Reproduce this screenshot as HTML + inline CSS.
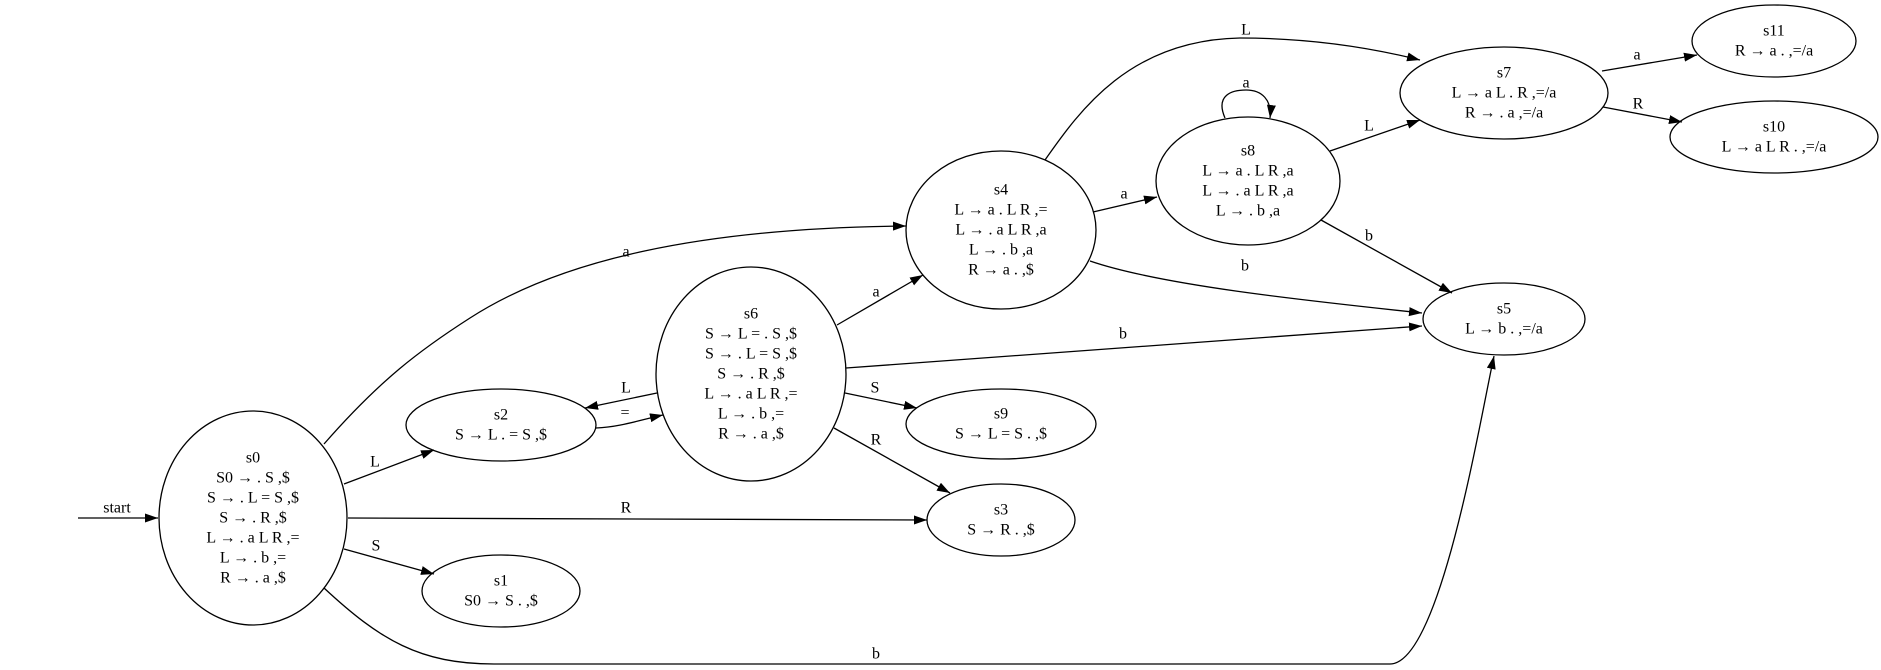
<!DOCTYPE html>
<html><head><meta charset="utf-8"><style>
html,body{margin:0;padding:0;background:#fff;}
svg{display:block;}
text{font-family:"Liberation Serif",serif;font-size:16px;fill:#000;}
</style></head><body>
<svg width="1881" height="670" viewBox="0 0 1881 670" xmlns="http://www.w3.org/2000/svg">
<defs><marker id="ar" markerUnits="userSpaceOnUse" markerWidth="14" markerHeight="10" refX="13" refY="4.5" orient="auto"><path d="M0,0 L13,4.5 L0,9 z" fill="#000"/></marker></defs>
<g fill="none" stroke="#000" stroke-width="1.3">
<ellipse cx="253" cy="518" rx="94" ry="107"/>
<ellipse cx="501" cy="425" rx="95" ry="36"/>
<ellipse cx="501" cy="591" rx="79" ry="36"/>
<ellipse cx="751" cy="374" rx="95" ry="107"/>
<ellipse cx="1001" cy="230" rx="95" ry="79"/>
<ellipse cx="1001" cy="424" rx="95" ry="35"/>
<ellipse cx="1001" cy="520" rx="74" ry="36"/>
<ellipse cx="1504" cy="93" rx="104" ry="46"/>
<ellipse cx="1774" cy="41" rx="82" ry="36"/>
<ellipse cx="1774" cy="137" rx="104" ry="36"/>
<ellipse cx="1248" cy="181" rx="92" ry="64"/>
<ellipse cx="1504" cy="319" rx="81" ry="36"/>
</g>
<g fill="none" stroke="#000" stroke-width="1.3" marker-end="url(#ar)">
<path d="M78,518 L158,518"/>
<path d="M324,444 C380,380 420,350 470,318 C560,260 700,228 906,226"/>
<path d="M344,484 L434,450"/>
<path d="M348,518 L927,520"/>
<path d="M344,549 L434,574"/>
<path d="M324,588 C380,640 420,664 494,664 L1390,664 C1440,664 1480,420 1494,356"/>
<path d="M596,428 C620,427 640,420 663,415"/>
<path d="M657,393 L585,408"/>
<path d="M837,325 L923,275"/>
<path d="M846,368 L1422,326"/>
<path d="M845,393 L917,408"/>
<path d="M834,428 L950,493"/>
<path d="M1093,212 L1157,197"/>
<path d="M1090,261 C1160,285 1300,300 1422,313"/>
<path d="M1045,160 C1080,110 1130,40 1240,38 C1320,38 1380,50 1420,60"/>
<path d="M1225,118 C1215,95 1232,90 1246,90 C1262,90 1272,100 1270,118"/>
<path d="M1330,151 L1420,120"/>
<path d="M1321,220 L1452,293"/>
<path d="M1602,71 L1697,55"/>
<path d="M1603,107 L1682,122"/>
</g>
<g text-anchor="middle" dominant-baseline="central">
<text x="117" y="508">start</text>
<text x="375" y="462">L</text>
<text x="376" y="546">S</text>
<text x="626" y="508">R</text>
<text x="626" y="252">a</text>
<text x="876" y="654">b</text>
<text x="625" y="413">=</text>
<text x="626" y="388">L</text>
<text x="876" y="292">a</text>
<text x="1123" y="334">b</text>
<text x="875" y="388">S</text>
<text x="876" y="440">R</text>
<text x="1124" y="194">a</text>
<text x="1245" y="266">b</text>
<text x="1246" y="30">L</text>
<text x="1246" y="83">a</text>
<text x="1369" y="126">L</text>
<text x="1369" y="236">b</text>
<text x="1637" y="55">a</text>
<text x="1638" y="104">R</text>

<text x="253" y="458">s0</text>
<text x="253" y="478">S0 → . S ,$</text>
<text x="253" y="498">S → . L = S ,$</text>
<text x="253" y="518">S → . R ,$</text>
<text x="253" y="538">L → . a L R ,=</text>
<text x="253" y="558">L → . b ,=</text>
<text x="253" y="578">R → . a ,$</text>

<text x="501" y="415">s2</text>
<text x="501" y="435">S → L . = S ,$</text>
<text x="501" y="581">s1</text>
<text x="501" y="601">S0 → S . ,$</text>

<text x="751" y="314">s6</text>
<text x="751" y="334">S → L = . S ,$</text>
<text x="751" y="354">S → . L = S ,$</text>
<text x="751" y="374">S → . R ,$</text>
<text x="751" y="394">L → . a L R ,=</text>
<text x="751" y="414">L → . b ,=</text>
<text x="751" y="434">R → . a ,$</text>

<text x="1001" y="190">s4</text>
<text x="1001" y="210">L → a . L R ,=</text>
<text x="1001" y="230">L → . a L R ,a</text>
<text x="1001" y="250">L → . b ,a</text>
<text x="1001" y="270">R → a . ,$</text>

<text x="1001" y="414">s9</text>
<text x="1001" y="434">S → L = S . ,$</text>
<text x="1001" y="510">s3</text>
<text x="1001" y="530">S → R . ,$</text>

<text x="1504" y="73">s7</text>
<text x="1504" y="93">L → a L . R ,=/a</text>
<text x="1504" y="113">R → . a ,=/a</text>

<text x="1774" y="31">s11</text>
<text x="1774" y="51">R → a . ,=/a</text>
<text x="1774" y="127">s10</text>
<text x="1774" y="147">L → a L R . ,=/a</text>

<text x="1248" y="151">s8</text>
<text x="1248" y="171">L → a . L R ,a</text>
<text x="1248" y="191">L → . a L R ,a</text>
<text x="1248" y="211">L → . b ,a</text>

<text x="1504" y="309">s5</text>
<text x="1504" y="329">L → b . ,=/a</text>
</g>
</svg>
</body></html>
